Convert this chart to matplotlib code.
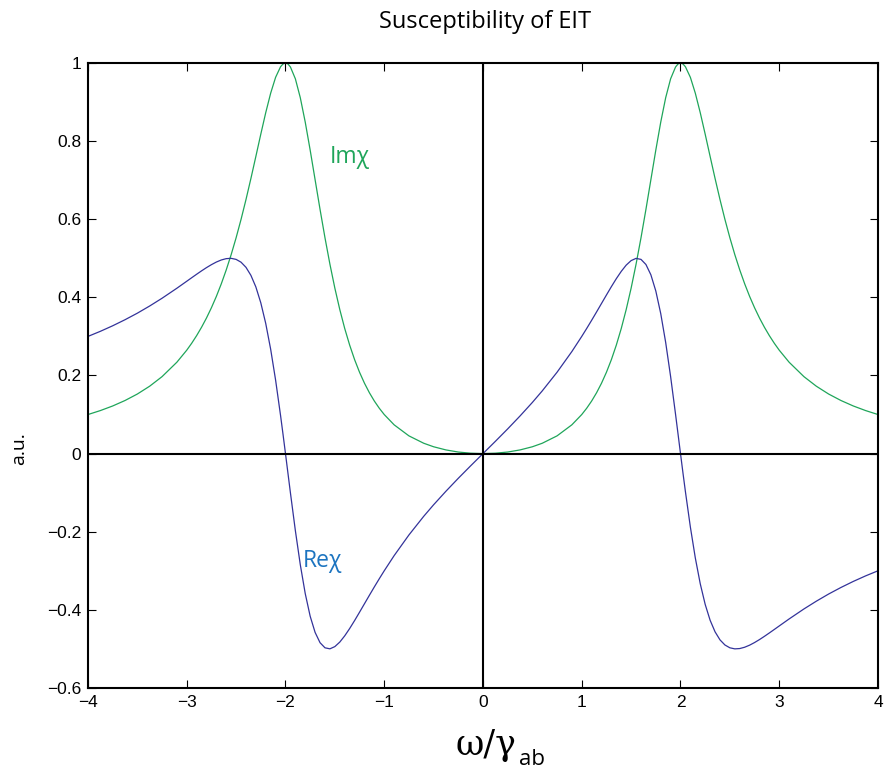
import matplotlib
matplotlib.use("Agg")
import matplotlib.pyplot as plt

# detuning omega / gamma_ab
x_vals = [-4.0, -3.875, -3.75, -3.625, -3.5, -3.375, -3.25, -3.1, -3.0, -2.95, -2.9,
          -2.85, -2.8, -2.75, -2.7, -2.65, -2.6, -2.55, -2.5, -2.45, -2.4, -2.35, -2.3,
          -2.25, -2.2, -2.15, -2.1, -2.05, -2.025, -2.0, -1.975, -1.95, -1.9, -1.85,
          -1.8, -1.75, -1.7, -1.65, -1.6, -1.55, -1.5, -1.45, -1.4, -1.35, -1.3,
          -1.25, -1.2, -1.15, -1.1, -1.05, -1.0, -0.9, -0.75, -0.6, -0.5, -0.375,
          -0.25, -0.125,
          0.0, 0.125, 0.25, 0.375, 0.5, 0.6, 0.75, 0.9, 1.0, 1.05, 1.1, 1.15, 1.2,
          1.25, 1.3, 1.35, 1.4, 1.45, 1.5, 1.55, 1.6, 1.65, 1.7, 1.75, 1.8, 1.85,
          1.9, 1.95, 1.975, 2.0, 2.025, 2.05, 2.1, 2.15, 2.2, 2.25, 2.3, 2.35, 2.4,
          2.45, 2.5, 2.55, 2.6, 2.65, 2.7, 2.75, 2.8, 2.85, 2.9, 2.95, 3.0, 3.1,
          3.25, 3.375, 3.5, 3.625, 3.75, 3.875, 4.0]

# imaginary part (absorption)
im_chi = [0.1, 0.1101, 0.1219, 0.1359, 0.1525, 0.1726, 0.197, 0.2339, 0.2647, 0.2824,
          0.3019, 0.3234, 0.3471, 0.3734, 0.4024, 0.4346, 0.4702, 0.5094, 0.5525,
          0.5995, 0.6503, 0.7044, 0.7607, 0.8177, 0.8728, 0.9227, 0.9633, 0.9903,
          0.9975, 1.0, 0.9975, 0.9898, 0.9596, 0.9112, 0.8487, 0.777, 0.7011, 0.6252,
          0.5525, 0.4849, 0.4235, 0.3687, 0.3202, 0.2777, 0.2405, 0.2082, 0.1801,
          0.1557, 0.1345, 0.1161, 0.1, 0.0737, 0.0454, 0.0265, 0.0175, 0.0094, 0.004,
          0.001,
          0.0, 0.001, 0.004, 0.0094, 0.0175, 0.0265, 0.0454, 0.0737, 0.1, 0.1161,
          0.1345, 0.1557, 0.1801, 0.2082, 0.2405, 0.2777, 0.3202, 0.3687, 0.4235,
          0.4849, 0.5525, 0.6252, 0.7011, 0.777, 0.8487, 0.9112, 0.9596, 0.9898,
          0.9975, 1.0, 0.9975, 0.9903, 0.9633, 0.9227, 0.8728, 0.8177, 0.7607, 0.7044,
          0.6503, 0.5995, 0.5525, 0.5094, 0.4702, 0.4346, 0.4024, 0.3734, 0.3471,
          0.3234, 0.3019, 0.2824, 0.2647, 0.2339, 0.197, 0.1726, 0.1525, 0.1359,
          0.1219, 0.1101, 0.1]

# real part (dispersion)
re_chi = [0.3, 0.313, 0.3272, 0.3427, 0.3595, 0.3779, 0.3977, 0.4233, 0.4412, 0.4502,
          0.4591, 0.4678, 0.4761, 0.4837, 0.4904, 0.4957, 0.4991, 0.4999, 0.4972,
          0.49, 0.4769, 0.4563, 0.4267, 0.3861, 0.3332, 0.2671, 0.1881, 0.0978,
          0.0496, 0.0, -0.0502, -0.1003, -0.197, -0.2844, -0.3583, -0.4163, -0.4578,
          -0.4841, -0.4972, -0.4998, -0.4941, -0.4825, -0.4665, -0.4478, -0.4274,
          -0.406, -0.3843, -0.3626, -0.3412, -0.3203, -0.3, -0.2613, -0.2083, -0.1605,
          -0.131, -0.0963, -0.0632, -0.0313,
          0.0, 0.0313, 0.0632, 0.0963, 0.131, 0.1605, 0.2083, 0.2613, 0.3, 0.3203,
          0.3412, 0.3626, 0.3843, 0.406, 0.4274, 0.4478, 0.4665, 0.4825, 0.4941,
          0.4998, 0.4972, 0.4841, 0.4578, 0.4163, 0.3583, 0.2844, 0.197, 0.1003,
          0.0502, 0.0, -0.0496, -0.0978, -0.1881, -0.2671, -0.3332, -0.3861, -0.4267,
          -0.4563, -0.4769, -0.49, -0.4972, -0.4999, -0.4991, -0.4957, -0.4904,
          -0.4837, -0.4761, -0.4678, -0.4591, -0.4502, -0.4412, -0.4233, -0.3977,
          -0.3779, -0.3595, -0.3427, -0.3272, -0.313, -0.3]

xticks = [-4, -3, -2, -1, 0, 1, 2, 3, 4]
xticklabels = ["\u22124", "\u22123", "\u22122", "\u22121", "0", "1", "2", "3", "4"]
yticks = [-0.6, -0.4, -0.2, 0, 0.2, 0.4, 0.6, 0.8, 1]
yticklabels = ["\u22120.6", "\u22120.4", "\u22120.2", "0", "0.2", "0.4", "0.6", "0.8", "1"]

GREEN = "#1fa55a"
NAVY = "#33339a"


def main():
    plt.rcParams['font.family'] = ['Liberation Sans', 'DejaVu Sans']
    fig = plt.figure(figsize=(8.85, 7.71), dpi=100)
    ax = fig.add_axes([0.0994, 0.1077, 0.8927, 0.8106])

    ax.plot(x_vals, im_chi, color=GREEN, lw=0.9)
    ax.plot(x_vals, re_chi, color=NAVY, lw=0.9)
    ax.axhline(0, color="black", lw=1.5)
    ax.axvline(0, color="black", lw=1.5)

    ax.set_xlim(-4, 4)
    ax.set_ylim(-0.6, 1)
    ax.set_xticks(xticks)
    ax.set_yticks(yticks)
    ax.set_xticklabels(xticklabels)
    ax.set_yticklabels(yticklabels)
    ax.tick_params(direction="in", top=True, right=True, length=6, width=0.8,
                   labelsize=12.5, pad=5)
    for sp in ax.spines.values():
        sp.set_linewidth(1.5)

    ax.text(-1.55, 0.745, "Im\u03c7", color=GREEN, fontsize=16.5, family="Open Sans")
    ax.text(-1.83, -0.29, "Re\u03c7", color="#1c74c0", fontsize=16.5, family="Open Sans")

    fig.text(0.548, 0.972, "Susceptibility of EIT", ha="center", va="center",
             fontsize=17, family="Open Sans")
    fig.text(0.022, 0.418, "a.u.", rotation=90, ha="center", va="center",
             fontsize=14, family="Open Sans")
    fig.text(0.584, 0.021, "\u03c9/\u03b3", ha="right", va="baseline",
             fontsize=25, family="DejaVu Serif")
    fig.text(0.586, 0.008, "ab", ha="left", va="baseline",
             fontsize=16, family="Open Sans")

    fig.savefig("out.png", dpi=100)


if __name__ == "__main__":
    main()
